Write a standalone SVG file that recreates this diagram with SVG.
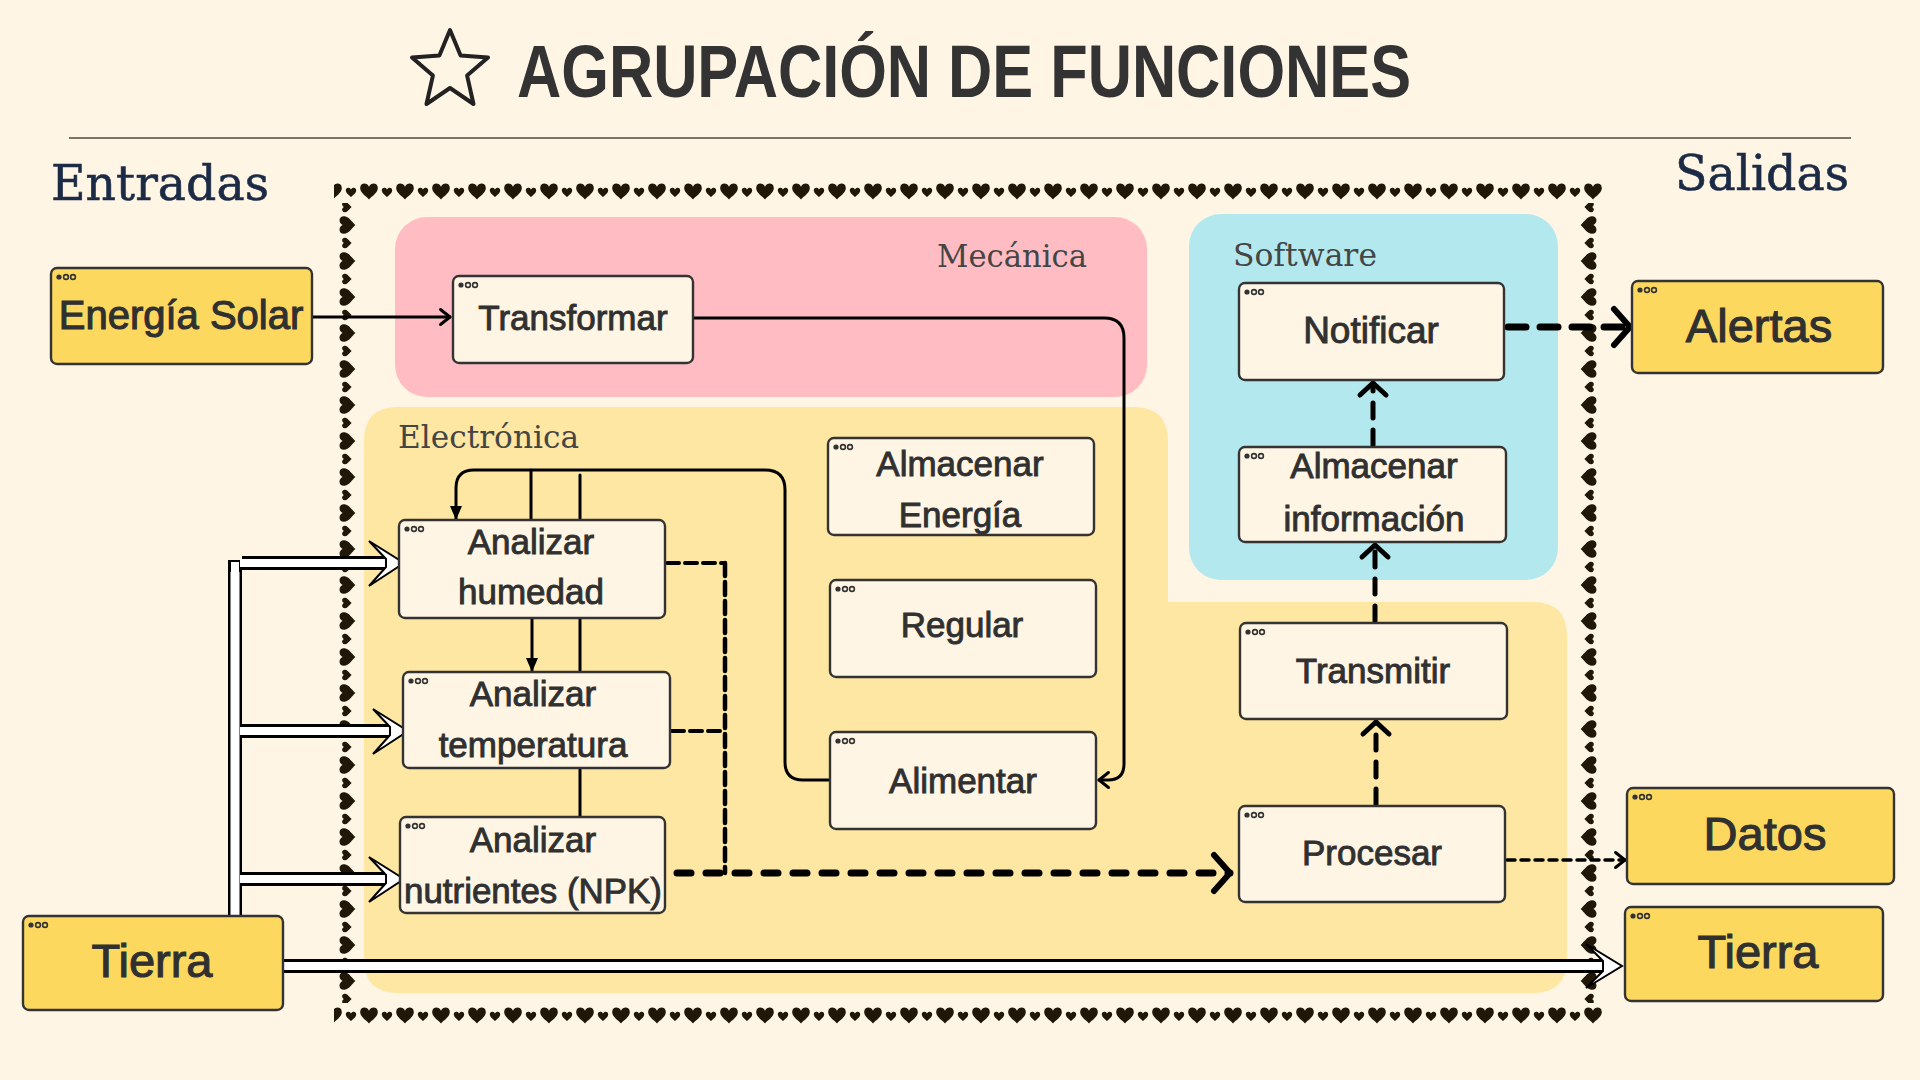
<svg xmlns="http://www.w3.org/2000/svg" xmlns:xlink="http://www.w3.org/1999/xlink" width="1920" height="1080" viewBox="0 0 1920 1080">
<style>
.nb{fill:#fff5e4;stroke:#333;stroke-width:2.4}
.ob{fill:#fcd95e;stroke:#333;stroke-width:2.4}
.t{font-family:"Liberation Sans",Arial,sans-serif;font-size:35px;fill:#303030;stroke:#303030;stroke-width:0.9;text-anchor:middle}
.tb{font-size:47px;stroke-width:1.1}
.rl{font-family:"DejaVu Serif","Liberation Serif",serif;font-size:31px;fill:#454545}
.hd{font-family:"DejaVu Serif","Liberation Serif",serif;font-size:49px;fill:#1c2b45;stroke:#1c2b45;stroke-width:0.6}
.sl{fill:none;stroke:#000;stroke-width:3;stroke-linecap:round;stroke-linejoin:round}
.dl{fill:none;stroke:#000;stroke-linecap:round}
.hb{fill:none;stroke:#000}
.hw{fill:none;stroke:#fff}
.ah{fill:#fff;stroke:#000;stroke-width:2;stroke-linejoin:miter}
.hrt{fill:#211708}
</style>
<defs>
<path id="heart" d="M0,-2.5 C-1.5,-6 -7,-5.5 -6.5,-1 C-6,2.5 -2,4.5 0,7 C2,4.5 6,2.5 6.5,-1 C7,-5.5 1.5,-6 0,-2.5Z"/>
<g id="dots"><circle cx="8" cy="9" r="2.6" fill="#333"/><circle cx="15" cy="9" r="2.4" fill="none" stroke="#333" stroke-width="1.6"/><circle cx="22" cy="9" r="2.4" fill="none" stroke="#333" stroke-width="1.6"/></g>
<pattern id="hTop" patternUnits="userSpaceOnUse" x="0" y="179" width="36" height="24">
<use href="#heart" class="hrt" transform="translate(9,11) scale(1.35)"/>
<use href="#heart" class="hrt" transform="translate(27,12.5) scale(0.8)"/>
</pattern>
<pattern id="hBot" patternUnits="userSpaceOnUse" x="0" y="1003" width="36" height="24">
<use href="#heart" class="hrt" transform="translate(9,11) scale(1.35)"/>
<use href="#heart" class="hrt" transform="translate(27,12.5) scale(0.8)"/>
</pattern>
<pattern id="hLeft" patternUnits="userSpaceOnUse" x="334" y="0" width="24" height="36">
<use href="#heart" class="hrt" transform="translate(12,9) rotate(-90) scale(1.35)"/>
<use href="#heart" class="hrt" transform="translate(12,27) rotate(-90) scale(0.8)"/>
</pattern>
<pattern id="hRight" patternUnits="userSpaceOnUse" x="1578" y="0" width="24" height="36">
<use href="#heart" class="hrt" transform="translate(12,9) rotate(90) scale(1.35)"/>
<use href="#heart" class="hrt" transform="translate(12,27) rotate(90) scale(0.8)"/>
</pattern>
<marker id="chevS" markerUnits="userSpaceOnUse" viewBox="0 0 12 18" refX="11" refY="9" markerWidth="12" markerHeight="18" orient="auto" overflow="visible">
<path d="M1.5,1.5 L11,9 L1.5,16.5" fill="none" stroke="#000" stroke-width="3" stroke-linecap="round" stroke-linejoin="round" stroke-dasharray="none"/>
</marker>
<marker id="chevM" markerUnits="userSpaceOnUse" viewBox="0 0 16 30" refX="14" refY="15" markerWidth="16" markerHeight="30" orient="auto" overflow="visible">
<path d="M2,2 L14,15 L2,28" fill="none" stroke="#000" stroke-width="5" stroke-linecap="round" stroke-linejoin="round" stroke-dasharray="none"/>
</marker>
<marker id="chevL" markerUnits="userSpaceOnUse" viewBox="0 0 22 42" refX="19" refY="21" markerWidth="22" markerHeight="42" orient="auto" overflow="visible">
<path d="M3,3 L19,21 L3,39" fill="none" stroke="#000" stroke-width="6" stroke-linecap="round" stroke-linejoin="round" stroke-dasharray="none"/>
</marker>
<marker id="tri" markerUnits="userSpaceOnUse" viewBox="0 0 14 12" refX="13" refY="6" markerWidth="14" markerHeight="12" orient="auto" overflow="visible">
<path d="M0,0 L14,6 L0,12 Z" fill="#000" stroke="none"/>
</marker>
</defs>

<rect width="1920" height="1080" fill="#fff5e4"/>

<!-- Title -->
<g id="title">
<path d="M450,30 L460.6,55.4 L488,57.6 L467.1,75.6 L473.5,104 L450,88 L426.5,104 L432.9,75.6 L412,57.6 L439.4,55.4 Z" fill="none" stroke="#222" stroke-width="4" stroke-linejoin="round"/>
<text x="517" y="97" textLength="894" lengthAdjust="spacingAndGlyphs" style="font-family:'Liberation Sans',Arial,sans-serif;font-weight:bold;font-size:74px;fill:#333">AGRUPACIÓN DE FUNCIONES</text>
<line x1="69" y1="138" x2="1851" y2="138" stroke="#7a7468" stroke-width="2"/>
<text class="hd" x="51" y="200" textLength="218" lengthAdjust="spacingAndGlyphs">Entradas</text>
<text class="hd" x="1675" y="190" textLength="174" lengthAdjust="spacingAndGlyphs">Salidas</text>
</g>

<!-- Hearts border -->
<g id="border">
<rect x="334" y="179" width="1268" height="24" fill="url(#hTop)"/>
<rect x="334" y="1003" width="1268" height="24" fill="url(#hBot)"/>
<rect x="334" y="203" width="24" height="800" fill="url(#hLeft)"/>
<rect x="1578" y="203" width="24" height="800" fill="url(#hRight)"/>
</g>

<!-- Regions -->
<g id="regions">
<rect id="mecanica" x="395" y="217" width="752" height="180" rx="32" fill="#ffbdc3"/>
<rect id="software" x="1189" y="214" width="369" height="366" rx="32" fill="#b3e9ee"/>
<path id="electronica" d="M398,407 H1134 Q1168,407 1168,441 V602 H1533 Q1567,602 1567,636 V959 Q1567,993 1533,993 H398 Q364,993 364,959 V441 Q364,407 398,407 Z" fill="#fee7a2"/>
<text class="rl" x="937" y="267" textLength="150" lengthAdjust="spacingAndGlyphs">Mecánica</text>
<text class="rl" x="1233" y="266" textLength="144" lengthAdjust="spacingAndGlyphs">Software</text>
<text class="rl" x="398" y="448" textLength="181" lengthAdjust="spacingAndGlyphs">Electrónica</text>
</g>

<!-- Connectors -->
<g id="connectors">
<path class="sl" d="M312,317 H450" marker-end="url(#chevS)"/>
<path class="sl" d="M693,318 H1104 Q1124,318 1124,338 V764 Q1124,780 1108,780 H1099" marker-end="url(#chevS)"/>
<path class="sl" d="M830,780 H803 Q785,780 785,762 V490 Q785,470 765,470 H474 Q456,470 456,488 V519" marker-end="url(#tri)"/>
<path class="sl" d="M531,470 V520" stroke-width="3"/>
<path class="sl" d="M580,475 V817" stroke-width="2.6"/>
<path class="sl" d="M532,618 V671" marker-end="url(#tri)"/>
<path class="dl" d="M667,563 H725" stroke-width="4" stroke-dasharray="12 6" stroke-linecap="butt"/>
<path class="dl" d="M672,731 H725" stroke-width="4" stroke-dasharray="12 6" stroke-linecap="butt"/>
<path class="dl" d="M725,563 V873" stroke-width="4.5" stroke-dasharray="13 6" stroke-linecap="butt"/>
<path class="dl" d="M677,873 H1230" stroke-width="7" stroke-dasharray="14 15" marker-end="url(#chevL)"/>
<path class="dl" d="M1376,804 V722" stroke-width="5" stroke-dasharray="15 12" marker-end="url(#chevM)"/>
<path class="dl" d="M1375,621 V545" stroke-width="5" stroke-dasharray="15 12" marker-end="url(#chevM)"/>
<path class="dl" d="M1373,445 V383" stroke-width="5" stroke-dasharray="15 12" marker-end="url(#chevM)"/>
<path class="dl" d="M1508,327 H1630" stroke-width="7" stroke-dasharray="18 14" marker-end="url(#chevL)"/>
<path class="dl" d="M1507,860 H1625" stroke-width="3.5" stroke-dasharray="8 6" stroke-linecap="butt" marker-end="url(#chevS)"/>
<g id="hollow">
<path class="hb" stroke-width="14" d="M235,920 V560 M242,563 H388 M242,731 H392 M242,879 H388 M283,966 H1604"/>
<path class="hw" stroke-width="8" d="M235,921 V562 M240,563 H389 M240,731 H393 M240,879 H389 M282,966 H1605"/>
<path class="hw" stroke-width="9" d="M235,572 V922"/>
<polygon class="ah" points="369,541 404,563 369,586 386,567 386,559"/>
<polygon class="ah" points="373,709 408,731 373,754 390,735 390,727"/>
<polygon class="ah" points="369,857 404,879 369,902 386,883 386,875"/>
<polygon class="ah" points="1586,944 1622,966 1586,988 1603,971 1603,961"/>
</g>
</g>

<!-- Nodes -->
<g id="n-energia"><rect class="ob" x="51" y="268" width="261" height="96" rx="6"/><use href="#dots" x="51" y="268"/><text class="t tb" x="181" y="329" style="font-size:40px">Energía Solar</text></g>
<g id="n-transformar"><rect class="nb" x="453" y="276" width="240" height="87" rx="6"/><use href="#dots" x="453" y="276"/><text class="t" x="573" y="330">Transformar</text></g>
<g id="n-notificar"><rect class="nb" x="1239" y="283" width="265" height="97" rx="6"/><use href="#dots" x="1239" y="283"/><text class="t" x="1371" y="343" style="font-size:37px">Notificar</text></g>
<g id="n-almacenar-info"><rect class="nb" x="1239" y="447" width="267" height="95" rx="6"/><use href="#dots" x="1239" y="447"/><text class="t" x="1374" y="478">Almacenar</text><text class="t" x="1374" y="531">información</text></g>
<g id="n-transmitir"><rect class="nb" x="1240" y="623" width="267" height="96" rx="6"/><use href="#dots" x="1240" y="623"/><text class="t" x="1373" y="683">Transmitir</text></g>
<g id="n-procesar"><rect class="nb" x="1239" y="806" width="266" height="96" rx="6"/><use href="#dots" x="1239" y="806"/><text class="t" x="1372" y="865">Procesar</text></g>
<g id="n-alertas"><rect class="ob" x="1632" y="281" width="251" height="92" rx="6"/><use href="#dots" x="1632" y="281"/><text class="t tb" x="1759" y="342">Alertas</text></g>
<g id="n-datos"><rect class="ob" x="1627" y="788" width="267" height="96" rx="6"/><use href="#dots" x="1627" y="788"/><text class="t tb" x="1765" y="850">Datos</text></g>
<g id="n-tierra-out"><rect class="ob" x="1625" y="907" width="258" height="94" rx="6"/><use href="#dots" x="1625" y="907"/><text class="t tb" x="1758" y="968">Tierra</text></g>
<g id="n-tierra-in"><rect class="ob" x="23" y="916" width="260" height="94" rx="6"/><use href="#dots" x="23" y="916"/><text class="t tb" x="152" y="977">Tierra</text></g>
<g id="n-humedad"><rect class="nb" x="399" y="520" width="266" height="98" rx="6"/><use href="#dots" x="399" y="520"/><text class="t" x="531" y="554">Analizar</text><text class="t" x="531" y="604">humedad</text></g>
<g id="n-temperatura"><rect class="nb" x="403" y="672" width="267" height="96" rx="6"/><use href="#dots" x="403" y="672"/><text class="t" x="533" y="706">Analizar</text><text class="t" x="533" y="757">temperatura</text></g>
<g id="n-nutrientes"><rect class="nb" x="400" y="817" width="265" height="96" rx="6"/><use href="#dots" x="400" y="817"/><text class="t" x="533" y="852">Analizar</text><text class="t" x="533" y="903" textLength="258" lengthAdjust="spacingAndGlyphs">nutrientes (NPK)</text></g>
<g id="n-almacenar-energia"><rect class="nb" x="828" y="438" width="266" height="97" rx="6"/><use href="#dots" x="828" y="438"/><text class="t" x="960" y="476">Almacenar</text><text class="t" x="960" y="527">Energía</text></g>
<g id="n-regular"><rect class="nb" x="830" y="580" width="266" height="97" rx="6"/><use href="#dots" x="830" y="580"/><text class="t" x="962" y="637">Regular</text></g>
<g id="n-alimentar"><rect class="nb" x="830" y="732" width="266" height="97" rx="6"/><use href="#dots" x="830" y="732"/><text class="t" x="963" y="793">Alimentar</text></g>
</svg>
